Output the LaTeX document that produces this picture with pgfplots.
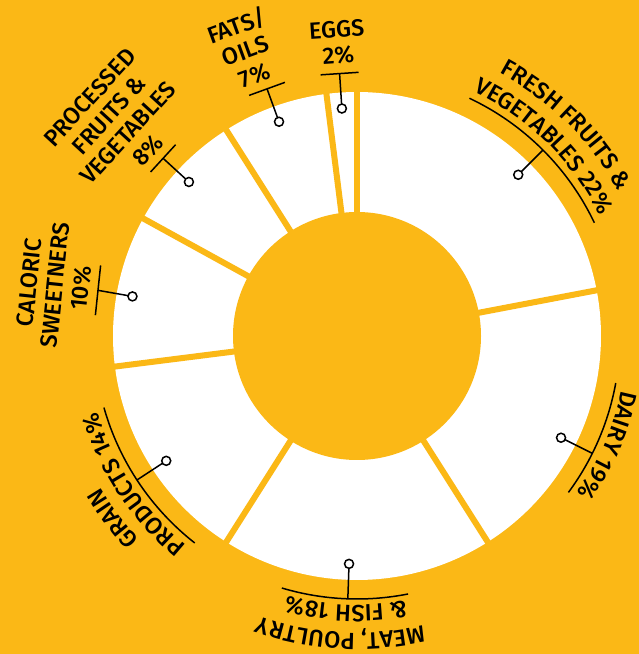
\documentclass[border=0pt]{standalone}
\usepackage{pgfplots}
\pgfplotsset{compat=1.18}
\usepackage{fontspec}
\setmainfont{Fira Sans Medium}
\usetikzlibrary{decorations.text}
\definecolor{bg}{RGB}{251,184,22}
\newcommand{\lf}{\fontsize{23.5}{26}\selectfont}
% slice: start (percent), value (percent)
\newcommand{\slice}[2]{%
  \addplot[fill=white, draw=none, domain=#1:#1+#2, samples=90, variable=\t]
    ({244*cos(90-3.6*\t)},{244*sin(90-3.6*\t)}) -- (axis cs:0,0) -- cycle;}
% curved text: centre angle, baseline radius, text
\newcommand{\curvetext}[3]{%
  \path[overlay, decorate, decoration={text along path, text align=center, text={|\lf|#3}}]
    ({#1+70}:#2pt) arc[start angle={#1+70}, end angle={#1-70}, radius=#2pt];}
% marker: angle
\newcommand{\marker}[1]{%
  \draw[line width=1.5pt] (#1:263pt) -- (#1:232.5pt);
  \draw[line width=1.5pt, fill=white] (#1:228pt) circle[radius=4.5pt];}
\begin{document}
\begin{tikzpicture}
\begin{axis}[hide axis, scale only axis, width=639pt, height=654pt,
  xmin=-357, xmax=282, ymin=-318, ymax=336, clip=false]
\fill[bg] (rel axis cs:0,0) rectangle (rel axis cs:1,1);
\slice{0}{22}
\slice{22}{19}
\slice{41}{18}
\slice{59}{14}
\slice{73}{10}
\slice{83}{8}
\slice{91}{7}
\slice{98}{2}
\pgfplotsinvokeforeach{0,22,41,59,73,83,91,98}{
  \draw[bg, line width=6pt] (axis cs:0,0) -- (axis cs:{250*cos(90-3.6*#1)},{250*sin(90-3.6*#1)});
}
\fill[bg] (axis cs:0,0) circle[radius=124pt];
\begin{scope}[shift={(axis cs:0,0)}]
  % curved labels
  \draw[line width=1.5pt] (64.7:263pt) arc[start angle=64.7, end angle=25.5, radius=263pt];
  \marker{45}
  \curvetext{45.3}{299}{FRESH FRUITS {\&}}
  \curvetext{45.5}{271}{VEGETABLES 22{\%}}
  \draw[line width=1.5pt] (-10.3:263pt) arc[start angle=-10.3, end angle=-36.5, radius=263pt];
  \marker{-26.5}
  \curvetext{-23.5}{270}{DAIRY 19{\%}}
  \draw[line width=1.5pt] (-78.8:263pt) arc[start angle=-78.8, end angle=-106.6, radius=263pt];
  \marker{-92}
  \curvetext{-93.2}{297}{MEAT, POULTRY}
  \curvetext{-92.3}{269}{{\&} FISH 18{\%}}
  \draw[line width=1.5pt] (195.8:263pt) arc[start angle=195.8, end angle=231.9, radius=263pt];
  \marker{213.2}
  \curvetext{216.8}{298}{GRAIN}
  \curvetext{213.5}{270}{PRODUCTS 14{\%}}
  % straight labels
  \marker{170}
  \draw[line width=1.5pt] (170:263pt) ++(84:-25pt) -- ++(84:50pt);
  \node[rotate=84, anchor=south, align=center, inner sep=0pt, font=\lf] at (170:271pt) {CALORIC\\SWEETNERS\\10\%};
  \marker{137.5}
  \draw[line width=1.5pt] (137.5:263pt) ++(47.5:-18.5pt) -- ++(47.5:37pt);
  \node[rotate=47.5, anchor=south, align=center, inner sep=0pt, font=\lf] at (138.5:271pt) {PROCESSED\\FRUITS \&\\VEGETABLES\\8\%};
  \marker{110}
  \draw[line width=1.5pt] (110:263pt) ++(20:-19pt) -- ++(20:38pt);
  \node[rotate=20, anchor=south, align=center, inner sep=0pt, font=\lf] at (111.5:271pt) {FATS/\\OILS\\7\%};
  \marker{93.8}
  \draw[line width=1.5pt] (93.8:263pt) ++(3.8:-19pt) -- ++(3.8:38pt);
  \node[rotate=3.8, anchor=south, align=center, inner sep=0pt, font=\lf] at (93.8:272pt) {EGGS\\2\%};
\end{scope}
\end{axis}
\end{tikzpicture}
\end{document}
